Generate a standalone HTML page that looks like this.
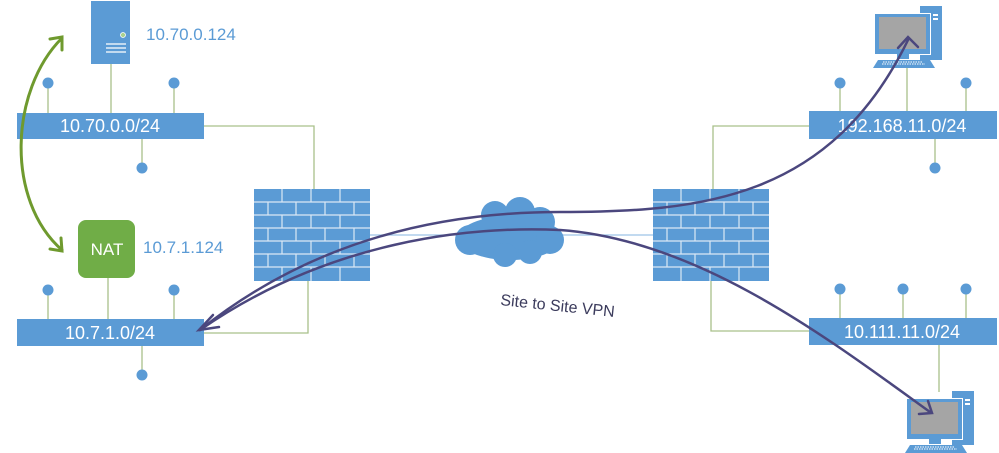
<!DOCTYPE html>
<html><head><meta charset="utf-8"><style>
body{margin:0;background:#fff}
svg{display:block}
text{font-family:"Liberation Sans",sans-serif}
</style></head><body>
<svg width="999" height="453" viewBox="0 0 999 453" xmlns="http://www.w3.org/2000/svg">
<defs>
<g id="fw">
  <rect x="0" y="0" width="116" height="92" fill="#5b9bd5"/>
  <g stroke="#dbe8f5" stroke-width="1.2">
    <line x1="0" y1="13" x2="116" y2="13"/><line x1="0" y1="26" x2="116" y2="26"/>
    <line x1="0" y1="39" x2="116" y2="39"/><line x1="0" y1="52" x2="116" y2="52"/>
    <line x1="0" y1="65" x2="116" y2="65"/><line x1="0" y1="78" x2="116" y2="78"/>
    <path d="M28 0v13M57 0v13M86 0v13 M28 26v13M57 26v13M86 26v13 M28 52v13M57 52v13M86 52v13 M28 78v14M57 78v14M86 78v14"/>
    <path d="M14 13v13M42 13v13M71 13v13M100 13v13 M14 39v13M42 39v13M71 39v13M100 39v13 M14 65v13M42 65v13M71 65v13M100 65v13"/>
  </g>
</g>
<g id="pc">
  <rect x="47" y="1" width="22" height="54" fill="#5b9bd5"/>
  <rect x="60" y="9" width="5" height="2" fill="#fff"/><rect x="60" y="13" width="5" height="2" fill="#fff"/>
  <rect x="0" y="8" width="58" height="42" fill="#fff"/>
  <rect x="2" y="9" width="55" height="40" fill="#5b9bd5"/>
  <rect x="6" y="12" width="47" height="32" fill="#a5a5a5"/>
  <rect x="24" y="49" width="12" height="5" fill="#5b9bd5"/>
  <path d="M5 55 H57 L62 63 H0 Z" fill="#5b9bd5"/>
  <path d="M10 57h40M9 59h43" stroke="#fff" stroke-width="1" stroke-dasharray="1.5 1"/>
</g>
</defs>

<g stroke="#a9c08a" stroke-width="1.3" fill="none">
  <path d="M48 83V113M174 83V113M111 64V113M142 139V168"/>
  <path d="M204 126H314V189"/>
  <path d="M48 290V319M174 290V319M108 278V319M142 346V375"/>
  <path d="M308 281V333H204"/>
  <path d="M809 126H713V189"/>
  <path d="M840 83V111M966 83V111M907 67V111M935 139V168"/>
  <path d="M711 281V331H809"/>
  <path d="M840 289V318M903 289V318M966 289V318M939 345V392"/>
</g>
<line x1="370" y1="235" x2="653" y2="235" stroke="#9dc3e6" stroke-width="1.3"/>

<g fill="#5b9bd5">
  <circle cx="48" cy="83" r="5.5"/><circle cx="174" cy="83" r="5.5"/><circle cx="142" cy="168" r="5.5"/>
  <circle cx="48" cy="290" r="5.5"/><circle cx="174" cy="290" r="5.5"/><circle cx="142" cy="375" r="5.5"/>
  <circle cx="840" cy="83" r="5.5"/><circle cx="966" cy="83" r="5.5"/><circle cx="935" cy="168" r="5.5"/>
  <circle cx="840" cy="289" r="5.5"/><circle cx="903" cy="289" r="5.5"/><circle cx="966" cy="289" r="5.5"/>
</g>

<rect x="91" y="1" width="39" height="63" fill="#5b9bd5"/>
<circle cx="123" cy="35" r="2.5" fill="#a9d18e" stroke="#fff" stroke-width="0.8"/>
<path d="M106 44h20M106 48h20M106 52h20" stroke="#fff" stroke-width="1.3"/>
<text x="146" y="40" font-size="17" fill="#5b9bd5">10.70.0.124</text>

<rect x="17" y="113" width="187" height="26" fill="#5b9bd5"/>
<text x="110" y="132" font-size="18" fill="#fff" text-anchor="middle">10.70.0.0/24</text>
<rect x="17" y="319" width="187" height="27" fill="#5b9bd5"/>
<text x="110" y="339" font-size="18" fill="#fff" text-anchor="middle">10.7.1.0/24</text>
<rect x="809" y="111" width="188" height="28" fill="#5b9bd5"/>
<text x="902" y="132" font-size="18" fill="#fff" text-anchor="middle">192.168.11.0/24</text>
<rect x="809" y="318" width="188" height="27" fill="#5b9bd5"/>
<text x="902" y="338" font-size="18" fill="#fff" text-anchor="middle">10.111.11.0/24</text>

<rect x="78" y="220" width="57" height="58" rx="8" fill="#70ad47"/>
<text x="107" y="255" font-size="17" fill="#fff" text-anchor="middle">NAT</text>
<text x="143" y="253" font-size="17" fill="#5b9bd5">10.7.1.124</text>

<use href="#fw" x="254" y="189"/>
<use href="#fw" x="653" y="189"/>

<g fill="#5b9bd5">
  <ellipse cx="510" cy="238" rx="52" ry="22"/>
  <circle cx="495" cy="215" r="14"/><circle cx="520" cy="212" r="15"/><circle cx="540" cy="222" r="15"/>
  <circle cx="470" cy="240" r="15"/><circle cx="550" cy="240" r="14"/><circle cx="505" cy="255" r="12"/><circle cx="530" cy="252" r="12"/>
</g>

<text x="500" y="305" font-size="16" fill="#3b3b5c" transform="rotate(6 500 305)">Site to Site VPN</text>

<use href="#pc" x="873" y="5"/>
<use href="#pc" x="905" y="390"/>

<g stroke="#4b477e" stroke-width="2.5" fill="none" stroke-linecap="round">
  <path d="M200 330 C300 250, 420 212, 560 212 C700 212, 830 200, 908 40"/>
  <path d="M200 330 C330 240, 470 226, 560 230 C700 240, 830 340, 930 412"/>
  <path d="M213 315 L199 330 L219 327"/>
  <path d="M898 48 L908 37 L918 47"/>
  <path d="M928 401 L932 413 L919 414"/>
</g>

<g stroke="#6f9a2e" stroke-width="3" fill="none" stroke-linecap="round">
  <path d="M62 38 C10 90, 5 200, 62 250"/>
  <path d="M50 39 L62 37 L62 50"/>
  <path d="M50 249 L62 251 L61 238"/>
</g>
</svg>
</body></html>
